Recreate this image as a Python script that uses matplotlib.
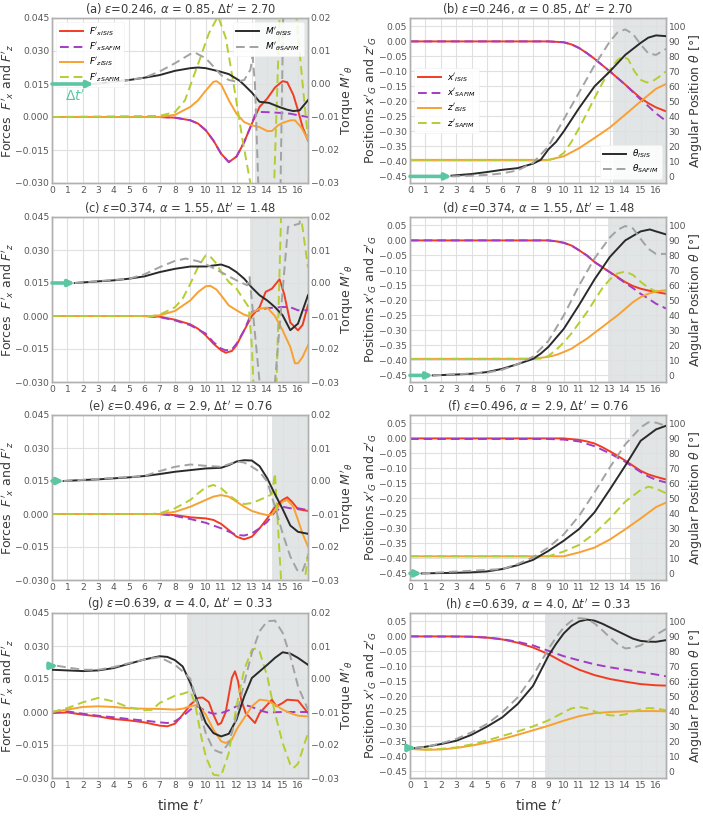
import numpy as np
import matplotlib
matplotlib.use('Agg')
import matplotlib.pyplot as plt
from matplotlib.ticker import FuncFormatter

# ------------------------------------------------------------------ data
panel_letters = [('a', 'b'), ('c', 'd'), ('e', 'f'), ('g', 'h')]
eps_values = [0.246, 0.374, 0.496, 0.639]
alpha_values = ['0.85', '1.55', '2.9', '4.0']
dt_values = [2.70, 1.48, 0.76, 0.33]
shade_start = [13.2, 12.85, 14.3, 8.8]
torque_start = [0.0, 0.0, 0.0, 0.004]
theta_start = [0.0, 0.0, 0.0, 15.6]

force_ticks = [-0.030, -0.015, 0.0, 0.015, 0.030, 0.045]
torque_ticks = [-0.03, -0.02, -0.01, 0.0, 0.01, 0.02]
pos_ticks = [-0.45, -0.40, -0.35, -0.30, -0.25, -0.20, -0.15, -0.10, -0.05, 0.0, 0.05]
theta_ticks = [0, 10, 20, 30, 40, 50, 60, 70, 80, 90, 100]
time_ticks = list(range(0, 17))

# ---- panel (a): forces / torque
a_FxI_t = [0, 7, 8, 9, 9.5, 10, 10.5, 11, 11.5, 12, 12.5, 13, 13.5, 14, 14.5, 15, 15.3, 15.7, 16, 16.3, 16.65]
a_FxI = [0, 0, -0.0003, -0.0015, -0.003, -0.006, -0.0107, -0.0167, -0.0205, -0.018, -0.0114, -0.003, 0.0046,
         0.0084, 0.0134, 0.0163, 0.0158, 0.010, 0.003, -0.0046, -0.0107]
a_FxS_t = [0, 7, 8, 9, 9.5, 10, 10.5, 11, 11.5, 12, 12.5, 13, 13.2, 13.5, 14, 14.5, 15, 15.5, 16, 16.65]
a_FxS = [0, 0, -0.0003, -0.0015, -0.003, -0.006, -0.0107, -0.0167, -0.0205, -0.018, -0.0114, -0.003, 0.001,
         0.0023, 0.0022, 0.002, 0.0018, 0.0015, 0.0008, 0.0]
a_FzI_t = [0, 7, 8, 9, 9.5, 10, 10.5, 10.7, 11, 11.5, 12, 12.5, 13, 13.5, 14, 14.3, 14.7, 15, 15.5, 15.8, 16.2, 16.65]
a_FzI = [0, 0, 0.001, 0.0046, 0.0076, 0.012, 0.016, 0.0163, 0.0148, 0.0076, 0.0015, -0.0023, -0.0038, -0.0046,
         -0.0064, -0.0064, -0.0038, -0.0027, -0.0015, -0.0015, -0.0046, -0.0103]
a_FzS_t = [0, 7, 8, 8.65, 9.6, 10.2, 10.8, 11.3, 11.8, 12.4, 12.9, 13.3, 13.8, 14.2, 14.45, 14.8, 15.3, 15.9, 16.3, 16.65]
a_FzS = [0, 0.0005, 0.0023, 0.0076, 0.026, 0.038, 0.0458, 0.036, 0.0155, -0.0107, -0.030, -0.045, -0.055, -0.045,
         -0.030, 0.045, 0.060, 0.045, 0.015, -0.010]
a_MI_t = [2.7, 4, 5, 6, 7, 8, 9, 9.5, 10, 10.9, 11.5, 12.2, 12.5, 13, 13.5, 14.1, 14.8, 15.3, 15.7, 16.1, 16.65]
a_MI = [0, 0.0007, 0.0012, 0.0019, 0.0027, 0.004, 0.0048, 0.005, 0.0048, 0.0038, 0.003, 0.001, -0.0003, -0.0026,
        -0.0054, -0.0057, -0.007, -0.0078, -0.0082, -0.008, -0.0049]
a_MS_t = [2.7, 4, 5, 6, 7, 8, 9, 9.3, 10, 10.5, 11, 11.5, 12, 12.5, 12.9, 13.05, 13.2, 13.45, 14.0, 14.85, 15.05, 15.3]
a_MS = [0, 0.0007, 0.0012, 0.0019, 0.0038, 0.0063, 0.0091, 0.0095, 0.0078, 0.0053, 0.0027, 0.0012, 0.0007, 0.0012,
        0.0043, 0.0083, 0.0, -0.035, -0.05, -0.035, 0.025, 0.04]

# ---- panel (b): positions / angle
b_xI_t = [0, 9, 10, 10.5, 11, 11.5, 12, 12.5, 13, 13.5, 14, 14.5, 15, 15.5, 16, 16.65]
b_xI = [0, 0, -0.003, -0.01, -0.022, -0.039, -0.058, -0.079, -0.1, -0.122, -0.144, -0.167, -0.189, -0.206, -0.22, -0.233]
b_xS_t = [0, 9, 10, 10.5, 11, 11.5, 12, 12.5, 13, 13.5, 14, 14.5, 15, 15.5, 16, 16.65]
b_xS = [0, 0, -0.003, -0.01, -0.022, -0.039, -0.058, -0.079, -0.1, -0.122, -0.144, -0.169, -0.194, -0.216, -0.24, -0.265]
b_zI_t = [0, 9, 10, 11, 12, 13, 14, 15, 16, 16.65]
b_zI = [-0.395, -0.395, -0.383, -0.356, -0.322, -0.287, -0.244, -0.2, -0.158, -0.142]
b_zS_t = [0, 9, 9.5, 10, 10.5, 11, 11.5, 12, 12.5, 13, 13.5, 13.85, 14.2, 14.6, 15, 15.4, 15.8, 16.2, 16.65]
b_zS = [-0.395, -0.395, -0.39, -0.372, -0.335, -0.289, -0.24, -0.189, -0.14, -0.095, -0.062, -0.05, -0.06, -0.1,
        -0.128, -0.137, -0.132, -0.118, -0.1]
b_thI_t = [2.7, 4, 5, 6, 7, 8, 8.5, 9, 9.5, 10, 11, 12, 13, 14, 15, 15.5, 16, 16.65]
b_thI = [0.5, 1.6, 2.9, 4.4, 5.5, 8.5, 11, 18, 23, 30, 45.6, 60, 70, 81, 89, 92.5, 94, 93.5]
b_thS_t = [2.7, 4, 5, 6, 7, 8, 9, 10, 11, 12, 13, 13.5, 14, 14.5, 15, 15.5, 16, 16.65]
b_thS = [0, 0.5, 1, 2, 4, 9, 20, 38, 56, 74, 90, 96, 98, 95, 88, 82, 81, 85]

# ---- panel (c)
c_FxI_t = [0, 6, 7, 8, 9, 9.5, 10, 10.5, 11, 11.3, 11.7, 12, 12.5, 13, 13.5, 13.9, 14.3, 14.8, 15.1, 15.5, 16.0, 16.3, 16.65]
c_FxI = [0, 0, -0.0003, -0.0017, -0.0038, -0.0058, -0.0088, -0.0126, -0.0156, -0.0167, -0.0159, -0.0133, -0.0065,
         0.0, 0.004, 0.011, 0.0124, 0.0167, 0.010, -0.003, -0.0065, -0.004, 0.005]
c_FxS_t = [0, 6, 7, 8, 9, 10, 10.5, 11, 11.3, 11.7, 12, 12.5, 13, 13.5, 14, 14.5, 15, 15.5, 16, 16.65]
c_FxS = [0, 0, -0.0005, -0.002, -0.0042, -0.008, -0.0119, -0.0148, -0.0156, -0.0152, -0.0126, -0.0065, 0.0018,
         0.0026, 0.0036, 0.0038, 0.0041, 0.004, 0.0026, 0.0026]
c_FzI_t = [0, 6.5, 7, 8, 9, 9.5, 10, 10.3, 10.7, 11, 11.5, 12, 12.5, 12.8, 13, 13.5, 14, 14.5, 15, 15.5, 15.8, 16, 16.3, 16.65]
c_FzI = [0, 0, 0.0003, 0.0023, 0.0071, 0.0109, 0.0135, 0.0137, 0.012, 0.0094, 0.0048, 0.0026, 0.0006, 0.0, 0.0014,
         0.0033, 0.0038, 0.0, -0.0065, -0.0141, -0.0215, -0.0215, -0.0186, -0.0133]
c_FzS_t = [0, 6.5, 7, 8, 8.5, 9, 9.5, 10, 10.3, 10.7, 11, 11.5, 12, 12.5, 12.8, 13.0, 13.1, 13.5, 14, 14.6, 14.9, 15.5,
           16.2, 16.55, 16.65]
c_FzS = [0, 0, 0.0006, 0.004, 0.0079, 0.0147, 0.0223, 0.0276, 0.027, 0.0238, 0.02, 0.0155, 0.0124, 0.0071, 0.004,
         -0.014, -0.031, -0.05, -0.05, -0.031, 0.046, 0.06, 0.045, 0.027, 0.022]
c_MI_t = [1.48, 3, 4, 5, 6, 7, 8, 9, 10, 11, 11.5, 12, 12.5, 13, 13.5, 14, 14.5, 15, 15.5, 16, 16.65]
c_MI = [0, 0.0005, 0.0008, 0.0013, 0.002, 0.0033, 0.0043, 0.005, 0.005, 0.0056, 0.0048, 0.0033, 0.0013, -0.0014,
        -0.0037, -0.0053, -0.0073, -0.0098, -0.0143, -0.0123, -0.0037]
c_MS_t = [1.48, 5, 6, 7, 8, 8.7, 9.5, 10, 11, 12, 12.7, 12.85, 13.5, 13.8, 14.2, 14.5, 15.35, 16.1, 16.4]
c_MS = [0, 0.0013, 0.0026, 0.0048, 0.0067, 0.0074, 0.0066, 0.0057, 0.0033, 0.0008, -0.0007, 0.0018, -0.03, -0.04,
        -0.04, -0.03, 0.017, 0.018, 0.03]

# ---- panel (d)
d_xI_t = [0, 9, 9.5, 10, 10.5, 11, 11.5, 12, 12.5, 13, 13.5, 14, 14.5, 15, 15.5, 16, 16.65]
d_xI = [0, 0, -0.003, -0.008, -0.017, -0.033, -0.05, -0.072, -0.089, -0.106, -0.122, -0.139, -0.152, -0.161, -0.167,
        -0.172, -0.178]
d_xS_t = [0, 9, 9.5, 10, 10.5, 11, 11.5, 12, 12.5, 13, 13.5, 14, 14.5, 15, 15.5, 16, 16.65]
d_xS = [0, 0, -0.003, -0.008, -0.017, -0.033, -0.05, -0.072, -0.089, -0.106, -0.124, -0.142, -0.159, -0.178, -0.194,
        -0.211, -0.227]
d_zI_t = [0, 8, 9, 9.5, 10, 10.5, 11, 11.5, 12, 12.5, 13, 13.5, 14, 14.5, 15, 15.5, 16, 16.65]
d_zI = [-0.395, -0.395, -0.388, -0.382, -0.372, -0.361, -0.344, -0.328, -0.308, -0.289, -0.269, -0.25, -0.228,
        -0.206, -0.189, -0.178, -0.17, -0.166]
d_zS_t = [0, 8.5, 9, 9.5, 10, 10.5, 11, 11.5, 12, 12.5, 13, 13.5, 14, 14.5, 15, 15.5, 16, 16.65]
d_zS = [-0.395, -0.394, -0.385, -0.365, -0.34, -0.31, -0.275, -0.24, -0.2, -0.16, -0.13, -0.11, -0.104, -0.115,
        -0.138, -0.158, -0.17, -0.168]
d_thI_t = [1.48, 3, 4, 5, 6, 7, 8, 8.5, 9, 10, 11, 12, 13, 14, 15, 15.6, 16, 16.65]
d_thI = [0, 0.6, 1.1, 2.2, 4.4, 7.5, 11, 14.5, 19, 31, 47, 64, 79, 90, 96, 97.3, 96, 94]
d_thS_t = [1.48, 5, 6, 7, 8, 9, 10, 11, 12, 13, 13.5, 14, 14.5, 15, 15.5, 16, 16.65]
d_thS = [0, 1.8, 3.8, 7.5, 12.5, 23, 40, 60, 78, 92, 97, 99.6, 98, 91, 84.4, 81, 81]

# ---- panel (e)
e_FxI_t = [0, 7, 8, 9, 10, 10.5, 11, 11.5, 12, 12.5, 13, 13.5, 14, 14.5, 15, 15.3, 15.6, 16, 16.3, 16.65]
e_FxI = [0, 0, -0.0005, -0.0015, -0.002, -0.0027, -0.0045, -0.0073, -0.0103, -0.0115, -0.0103, -0.0065, -0.002,
         0.0033, 0.0064, 0.0076, 0.0056, 0.0022, 0.0018, 0.0014]
e_FxS_t = [0, 7, 8, 9, 10, 11, 11.5, 12, 12.5, 13, 13.5, 14, 14.5, 15, 15.5, 16, 16.65]
e_FxS = [0, 0, -0.0009, -0.0023, -0.004, -0.0065, -0.008, -0.0095, -0.0098, -0.0088, -0.0065, -0.0035, 0.001,
         0.0033, 0.0026, 0.0026, 0.0018]
e_FzI_t = [0, 7, 8, 9, 10, 10.5, 11, 11.5, 12, 12.5, 13, 13.5, 14, 14.3, 14.7, 15, 15.3, 15.7, 16, 16.3, 16.65]
e_FzI = [0, 0, 0.001, 0.0033, 0.0064, 0.0079, 0.0086, 0.0079, 0.0056, 0.0033, 0.0014, 0.0003, -0.0005, -0.0003,
         0.0033, 0.0056, 0.0064, 0.0033, -0.0027, -0.009, -0.0148]
e_FzS_t = [0, 6.5, 7, 8, 9, 9.5, 10, 10.5, 11, 11.5, 12, 12.5, 13, 13.5, 14, 14.3, 14.5, 14.9, 15.3, 16.2, 16.45, 16.65]
e_FzS = [0, 0, 0.0003, 0.0026, 0.0064, 0.0094, 0.0121, 0.0132, 0.0117, 0.0086, 0.0061, 0.0045, 0.005, 0.0064, 0.0079,
         0.009, 0.0185, -0.03, -0.045, -0.045, -0.03, -0.018]
e_MI_t = [0.76, 2, 3, 4, 5, 6, 7, 8, 9, 10, 11, 11.5, 12, 12.5, 13, 13.5, 14, 14.5, 15, 15.5, 16, 16.65]
e_MI = [0, 0.0003, 0.0005, 0.0008, 0.0011, 0.0015, 0.0021, 0.0028, 0.0033, 0.0038, 0.004, 0.0048, 0.0059, 0.0063,
        0.0062, 0.0045, 0.0008, -0.004, -0.0085, -0.0135, -0.0154, -0.016]
e_MS_t = [0.76, 6, 7, 8, 9, 10, 11, 12, 12.5, 13, 13.5, 14, 14.5, 15, 15.5, 16, 16.3, 16.65]
e_MS = [0, 0.0015, 0.003, 0.0043, 0.005, 0.0046, 0.0043, 0.0059, 0.0056, 0.0043, 0.0028, -0.0002, -0.0078, -0.0159,
        -0.0229, -0.0275, -0.0272, -0.0229]

# ---- panel (f)
f_xI_t = [0, 10, 11, 11.5, 12, 12.5, 13, 13.5, 14, 14.5, 15, 15.5, 16, 16.65]
f_xI = [0, 0, -0.005, -0.01, -0.017, -0.029, -0.043, -0.058, -0.074, -0.091, -0.108, -0.12, -0.128, -0.137]
f_xS_t = [0, 9, 10, 11, 12, 13, 14, 14.5, 15, 15.5, 16, 16.65]
f_xS = [-0.002, -0.002, -0.004, -0.01, -0.026, -0.05, -0.078, -0.095, -0.112, -0.127, -0.138, -0.147]
f_zI_t = [0, 10, 11, 12, 13, 14, 15, 16, 16.65]
f_zI = [-0.393, -0.393, -0.38, -0.364, -0.337, -0.303, -0.267, -0.229, -0.214]
f_zS_t = [0, 9, 10, 11, 12, 13, 14, 15, 15.5, 16, 16.65]
f_zS = [-0.393, -0.393, -0.377, -0.355, -0.317, -0.267, -0.211, -0.172, -0.161, -0.167, -0.183]
f_thI_t = [0.76, 3, 4, 5, 6, 7, 8, 9, 10, 11, 12, 13, 14, 15, 16, 16.65]
f_thI = [0, 0.4, 0.7, 1.3, 2.9, 5.5, 9, 15, 21.8, 29.6, 40.7, 56, 71.8, 88.4, 96, 98.4]
f_thS_t = [0.76, 6, 7, 8, 9, 10, 11, 12, 13, 14, 15, 15.5, 16, 16.65]
f_thS = [0, 2.9, 6.2, 10.7, 17.3, 26, 38.4, 54, 70.7, 86, 97.3, 100.7, 100.5, 98.4]

# ---- panel (g)
g_FxI_t = [0, 1, 2, 3, 4, 5, 6, 7, 7.5, 8, 8.5, 9, 9.5, 9.8, 10.2, 10.5, 10.8, 11.0, 11.3, 11.7, 11.9, 12.1, 12.3,
           12.6, 13, 13.2, 13.5, 14, 14.3, 14.6, 15, 15.3, 16, 16.3, 16.65]
g_FxI = [-0.0005, -0.0002, -0.0012, -0.002, -0.0032, -0.0038, -0.0047, -0.0062, -0.0065, -0.0053, -0.0012, 0.0033,
         0.0064, 0.0066, 0.0045, -0.0012, -0.0058, -0.005, 0.0, 0.0155, 0.0185, 0.014, 0.0056, -0.0005, -0.0035,
         -0.005, -0.0005, 0.0033, 0.0056, 0.0026, 0.0041, 0.0056, 0.0052, 0.0026, -0.0005]
g_FxS_t = [0, 1, 2, 3, 4, 5, 6, 7, 7.5, 8, 8.5, 9, 9.5, 10, 10.5, 11, 11.5, 12, 12.5, 13, 13.5, 14, 15, 16, 16.65]
g_FxS = [0, 0.0003, -0.0008, -0.0017, -0.0024, -0.0032, -0.0039, -0.0047, -0.005, -0.0042, -0.002, 0.0011, 0.0026,
         0.0003, -0.0008, -0.0005, 0.0008, 0.0026, 0.0033, 0.0023, 0.0008, -0.0002, 0.0, 0.0, 0.0]
g_FzI_t = [0, 1, 2, 3, 4, 5, 6, 7, 8, 8.5, 9, 9.5, 10, 10.5, 11, 11.3, 11.7, 12, 12.5, 13, 13.5, 14, 14.5, 15, 15.5,
           16, 16.65]
g_FzI = [0, 0.0011, 0.0023, 0.0026, 0.0023, 0.0017, 0.0015, 0.0014, 0.0011, 0.0015, 0.0026, 0.0033, -0.0012, -0.008,
         -0.0133, -0.0141, -0.0125, -0.008, -0.0027, 0.0026, 0.0056, 0.0052, 0.0033, 0.0011, -0.0005, -0.0017, -0.002]
g_FzS_t = [0, 1, 2, 3, 4, 5, 6, 6.5, 7, 8, 8.5, 9, 9.3, 9.7, 10, 10.5, 11, 11.5, 12, 12.5, 13, 13.3, 13.5, 14, 14.5,
           15, 15.5, 15.7, 16, 16.3, 16.65]
g_FzS = [0, 0.0018, 0.0044, 0.0064, 0.0048, 0.0021, 0.0008, 0.001, 0.0041, 0.0074, 0.0083, 0.0094, 0.004, -0.011,
         -0.0202, -0.0285, -0.029, -0.0186, 0.0026, 0.0192, 0.0283, 0.029, 0.0275, 0.0162, -0.0005, -0.0141, -0.0239,
         -0.0255, -0.0235, -0.0171, -0.0095]
g_MI_t = [0, 1, 2, 3, 4, 5, 6, 7, 7.5, 8, 8.5, 9, 9.5, 10, 10.5, 11, 11.5, 12, 12.5, 13, 13.5, 14, 14.5, 15, 15.5,
          16, 16.65]
g_MI = [0.0028, 0.0026, 0.0024, 0.0026, 0.0033, 0.0046, 0.0059, 0.0069, 0.0067, 0.0057, 0.0038, -0.0012, -0.0073,
        -0.0133, -0.0164, -0.0174, -0.0166, -0.0123, -0.0053, 0.0003, 0.0023, 0.0043, 0.0064, 0.0081, 0.0077,
        0.0064, 0.0043]
g_MS_t = [0.33, 1, 2, 3, 4, 5, 6, 7, 8, 8.5, 9, 9.5, 10, 10.5, 11, 11.5, 12, 12.5, 13, 13.5, 14, 14.5, 15, 15.5, 16,
          16.65]
g_MS = [0.004, 0.0035, 0.0028, 0.0028, 0.0036, 0.0048, 0.0059, 0.0066, 0.0043, 0.0023, 0.0, -0.0081, -0.0164,
        -0.0214, -0.0224, -0.0194, -0.0113, -0.0012, 0.0079, 0.0145, 0.0175, 0.0177, 0.014, 0.0069, -0.0022, -0.0093]

# ---- panel (h)
h_xI_t = [0, 3, 4, 5, 6, 7, 8, 9, 10, 11, 12, 13, 14, 15, 16, 16.65]
h_xI = [0, 0, -0.001, -0.004, -0.01, -0.021, -0.037, -0.059, -0.087, -0.111, -0.129, -0.142, -0.151, -0.159, -0.163,
        -0.164]
h_xS_t = [0, 4, 5, 6, 7, 8, 9, 10, 11, 12, 13, 14, 15, 16, 16.65]
h_xS = [0, -0.001, -0.004, -0.009, -0.018, -0.03, -0.048, -0.066, -0.08, -0.093, -0.103, -0.111, -0.119, -0.127,
        -0.133]
h_zI_t = [0, 1, 2, 3, 4, 5, 6, 7, 8, 9, 10, 11, 12, 13, 14, 15, 16, 16.65]
h_zI = [-0.375, -0.378, -0.377, -0.372, -0.364, -0.354, -0.342, -0.328, -0.313, -0.298, -0.281, -0.266, -0.256,
        -0.252, -0.25, -0.249, -0.249, -0.25]
h_zS_t = [0, 1, 2, 3, 4, 5, 6, 7, 8, 9, 10, 10.5, 11, 11.5, 12, 12.5, 13, 13.5, 14, 14.5, 15, 15.5, 16, 16.65]
h_zS = [-0.375, -0.377, -0.375, -0.37, -0.36, -0.347, -0.332, -0.317, -0.3, -0.28, -0.253, -0.24, -0.235, -0.24,
        -0.25, -0.258, -0.263, -0.264, -0.26, -0.25, -0.243, -0.239, -0.24, -0.246]
h_thI_t = [0.33, 1, 2, 3, 4, 5, 6, 7, 8, 9, 9.5, 10, 10.5, 11, 11.5, 12, 12.5, 13, 13.5, 14, 14.5, 15, 15.5, 16, 16.65]
h_thI = [15.6, 16.4, 18.2, 20.4, 24.4, 29.8, 36, 44.9, 57, 77, 85, 92, 97, 100, 101.2, 100.5, 98.5, 96, 93.5, 91,
         88.5, 87, 86.5, 86.4, 87.5]
h_thS_t = [0.33, 1, 2, 3, 4, 5, 6, 7, 8, 9, 9.5, 10, 10.5, 11, 11.5, 12, 12.5, 13, 13.5, 14, 14.5, 15, 15.5, 16, 16.65]
h_thS = [15.6, 16.4, 18.6, 21.6, 26, 31.6, 39.3, 49.3, 63.8, 81.6, 89.3, 96, 100.4, 102.2, 101.6, 98.7, 94.2, 89.3,
         84.9, 82, 82.5, 84, 87, 91, 95]

left_data = [
    (a_FxI_t, a_FxI, a_FxS_t, a_FxS, a_FzI_t, a_FzI, a_FzS_t, a_FzS, a_MI_t, a_MI, a_MS_t, a_MS),
    (c_FxI_t, c_FxI, c_FxS_t, c_FxS, c_FzI_t, c_FzI, c_FzS_t, c_FzS, c_MI_t, c_MI, c_MS_t, c_MS),
    (e_FxI_t, e_FxI, e_FxS_t, e_FxS, e_FzI_t, e_FzI, e_FzS_t, e_FzS, e_MI_t, e_MI, e_MS_t, e_MS),
    (g_FxI_t, g_FxI, g_FxS_t, g_FxS, g_FzI_t, g_FzI, g_FzS_t, g_FzS, g_MI_t, g_MI, g_MS_t, g_MS),
]
right_data = [
    (b_xI_t, b_xI, b_xS_t, b_xS, b_zI_t, b_zI, b_zS_t, b_zS, b_thI_t, b_thI, b_thS_t, b_thS),
    (d_xI_t, d_xI, d_xS_t, d_xS, d_zI_t, d_zI, d_zS_t, d_zS, d_thI_t, d_thI, d_thS_t, d_thS),
    (f_xI_t, f_xI, f_xS_t, f_xS, f_zI_t, f_zI, f_zS_t, f_zS, f_thI_t, f_thI, f_thS_t, f_thS),
    (h_xI_t, h_xI, h_xS_t, h_xS, h_zI_t, h_zI, h_zS_t, h_zS, h_thI_t, h_thI, h_thS_t, h_thS),
]

# ------------------------------------------------------------------ style
C_RED = '#f23c22'
C_PURPLE = '#a33cc4'
C_ORANGE = '#f8a132'
C_YG = '#b4cd32'
C_BLACK = '#2a2a2a'
C_GRAY = '#a2a2a2'
C_TEAL = '#5cc6a2'
C_SHADE = '#dde1e1'
TXT = '#3a3a3a'
TICK = '#555555'
SPINE = '#b0b0b0'
GRID = '#e0e0e0'
DASH = (0, (4.5, 2.5))
LW = 1.4
TICK_FS = 6.6
LAB_FS = 9.0
TITLE_FS = 8.3
LEG_FS = 6.4

plt.rcParams['font.family'] = ['DejaVu Sans']
plt.rcParams['mathtext.fontset'] = 'dejavusans'

fig = plt.figure(figsize=(7.03, 8.16), dpi=100)
W, H = 703.0, 816.0
row_tops = [18, 217, 415, 613]
ax_h = 165
col_left = [52, 410]
ax_w = 256
XMAX = 16.65


def px_to_axes_x(px, left):
    return (px - left) / ax_w


def fmt(decimals):
    def f(v, p):
        s = f'{round(v, decimals):.{decimals}f}'
        if s.startswith('-') and float(s) == 0:
            s = s[1:]
        return s.replace('-', '\u2212')
    return FuncFormatter(f)


def style_axes(ax):
    for sp in ax.spines.values():
        sp.set_color(SPINE)
        sp.set_linewidth(1.0)
    ax.tick_params(axis='both', which='both', length=0, pad=2, labelsize=TICK_FS, labelcolor=TICK)


def make_legend(axh, handles, loc):
    lg = axh.legend(handles=handles, loc=loc, fontsize=LEG_FS, handlelength=2.6, handletextpad=0.7,
                    frameon=True, framealpha=0.85, edgecolor='#f0f0f0', borderpad=0.35, labelspacing=0.3)
    lg.get_frame().set_linewidth(0.5)
    return lg


for r in range(4):
    top = row_tops[r]
    bottom = 1 - (top + ax_h) / H
    la, ra = panel_letters[r]
    title_tail = (r"$\varepsilon$=" + f"{eps_values[r]}" + r", $\alpha$ = " + alpha_values[r]
                  + r", $\Delta t'$ = " + f"{dt_values[r]:.2f}")

    # ---------------- left: forces + torque
    ax = fig.add_axes([col_left[0] / W, bottom, ax_w / W, ax_h / H])
    ax.set_facecolor('white')
    ax.set_xlim(0, XMAX)
    ax.set_ylim(-0.030, 0.045)
    ax.set_xticks(time_ticks)
    ax.set_yticks(force_ticks)
    ax.yaxis.set_major_formatter(fmt(3))
    ax.grid(True, color=GRID, lw=0.8)
    ax.set_axisbelow(True)
    style_axes(ax)
    ax.axvspan(shade_start[r], XMAX, color=C_SHADE, alpha=0.85, lw=0, zorder=0.5)
    (fxi_t, fxi, fxs_t, fxs, fzi_t, fzi, fzs_t, fzs, mi_t, mi, ms_t, ms) = left_data[r]
    l1, = ax.plot(fxi_t, fxi, color=C_RED, lw=LW, label=r"$F'_{xISIS}$", zorder=3)
    l2, = ax.plot(fxs_t, fxs, color=C_PURPLE, lw=LW, ls=DASH, label=r"$F'_{xSAFIM}$", zorder=3)
    l3, = ax.plot(fzi_t, fzi, color=C_ORANGE, lw=LW, label=r"$F'_{zISIS}$", zorder=3)
    l4, = ax.plot(fzs_t, fzs, color=C_YG, lw=LW, ls=DASH, label=r"$F'_{zSAFIM}$", zorder=3)
    ax.set_title(f"({la}) " + title_tail, fontsize=TITLE_FS, color=TXT, pad=3)
    ax.set_ylabel(r"Forces  $F'_x$ and $F'_z$", fontsize=LAB_FS, color=TXT)
    ax.yaxis.set_label_coords(px_to_axes_x(16, col_left[0]), 0.5)

    ax2 = ax.twinx()
    ax2.set_ylim(-0.03, 0.02)
    ax2.set_yticks(torque_ticks)
    ax2.yaxis.set_major_formatter(fmt(2))
    ax2.grid(False)
    style_axes(ax2)
    m1, = ax2.plot(mi_t, mi, color=C_BLACK, lw=LW, label=r"$M'_{\theta ISIS}$", zorder=4)
    m2, = ax2.plot(ms_t, ms, color=C_GRAY, lw=LW, ls=DASH, label=r"$M'_{\theta SAFIM}$", zorder=4)
    ax2.annotate('', xy=(dt_values[r], torque_start[r]), xytext=(0, torque_start[r]),
                 arrowprops=dict(arrowstyle='-|>', color=C_TEAL, lw=2.6, mutation_scale=9,
                                 shrinkA=0, shrinkB=0), zorder=6)
    ax2.set_ylabel(r"Torque $M'_\theta$", fontsize=LAB_FS, color=TXT)
    ax2.yaxis.set_label_coords(px_to_axes_x(338, col_left[0]), 0.5)
    if r == 0:
        leg = make_legend(ax2, [l1, l2, l3, l4], 'upper left')
        ax2.add_artist(leg)
        make_legend(ax2, [m1, m2], 'upper right')
        ax2.text(dt_values[r] * 0.55, 0.0095, r"$\Delta t'$", color=C_TEAL, fontsize=10, ha='center',
                 va='center', transform=ax.transData, zorder=7)

    # ---------------- right: positions + angle
    bx = fig.add_axes([col_left[1] / W, bottom, ax_w / W, ax_h / H])
    bx.set_xlim(0, XMAX)
    bx.set_ylim(-0.472, 0.078)
    bx.set_xticks(time_ticks)
    bx.set_yticks(pos_ticks)
    bx.yaxis.set_major_formatter(fmt(2))
    bx.grid(True, color=GRID, lw=0.8)
    bx.set_axisbelow(True)
    style_axes(bx)
    bx.axvspan(shade_start[r], XMAX, color=C_SHADE, alpha=0.85, lw=0, zorder=0.5)
    (xi_t, xi, xs_t, xs, zi_t, zi, zs_t, zs, ti_t, ti, ts_t, ts) = right_data[r]
    p1, = bx.plot(xi_t, xi, color=C_RED, lw=LW, label=r"$x'_{ISIS}$", zorder=3)
    p2, = bx.plot(xs_t, xs, color=C_PURPLE, lw=LW, ls=DASH, label=r"$x'_{SAFIM}$", zorder=3)
    p3, = bx.plot(zi_t, zi, color=C_ORANGE, lw=LW, label=r"$z'_{ISIS}$", zorder=3)
    p4, = bx.plot(zs_t, zs, color=C_YG, lw=LW, ls=DASH, label=r"$z'_{SAFIM}$", zorder=3)
    bx.set_title(f"({ra}) " + title_tail, fontsize=TITLE_FS, color=TXT, pad=3)
    bx.set_ylabel(r"Positions $x'_G$ and $z'_G$", fontsize=LAB_FS, color=TXT)
    bx.yaxis.set_label_coords(px_to_axes_x(379, col_left[1]), 0.5)

    bx2 = bx.twinx()
    bx2.set_ylim(-4.4, 105.6)
    bx2.set_yticks(theta_ticks)
    bx2.yaxis.set_major_formatter(fmt(0))
    bx2.grid(False)
    style_axes(bx2)
    t1, = bx2.plot(ti_t, ti, color=C_BLACK, lw=LW, label=r"$\theta_{ISIS}$", zorder=4)
    t2, = bx2.plot(ts_t, ts, color=C_GRAY, lw=LW, ls=DASH, label=r"$\theta_{SAFIM}$", zorder=4)
    bx2.annotate('', xy=(dt_values[r], theta_start[r]), xytext=(0, theta_start[r]),
                 arrowprops=dict(arrowstyle='-|>', color=C_TEAL, lw=2.6, mutation_scale=9,
                                 shrinkA=0, shrinkB=0), zorder=6)
    bx2.set_ylabel(r"Angular Position $\theta$ [°]", fontsize=LAB_FS, color=TXT)
    bx2.yaxis.set_label_coords(px_to_axes_x(687, col_left[1]), 0.5)
    if r == 0:
        lg = make_legend(bx2, [p1, p2, p3, p4], 'center left')
        bx2.add_artist(lg)
        make_legend(bx2, [t1, t2], 'lower right')

for cx in col_left:
    fig.text((cx + ax_w / 2) / W, 1 - 806 / H, r"time $t'$", fontsize=LAB_FS + 1, color=TXT,
             ha='center', va='center')

fig.savefig('out.png', dpi=100)
